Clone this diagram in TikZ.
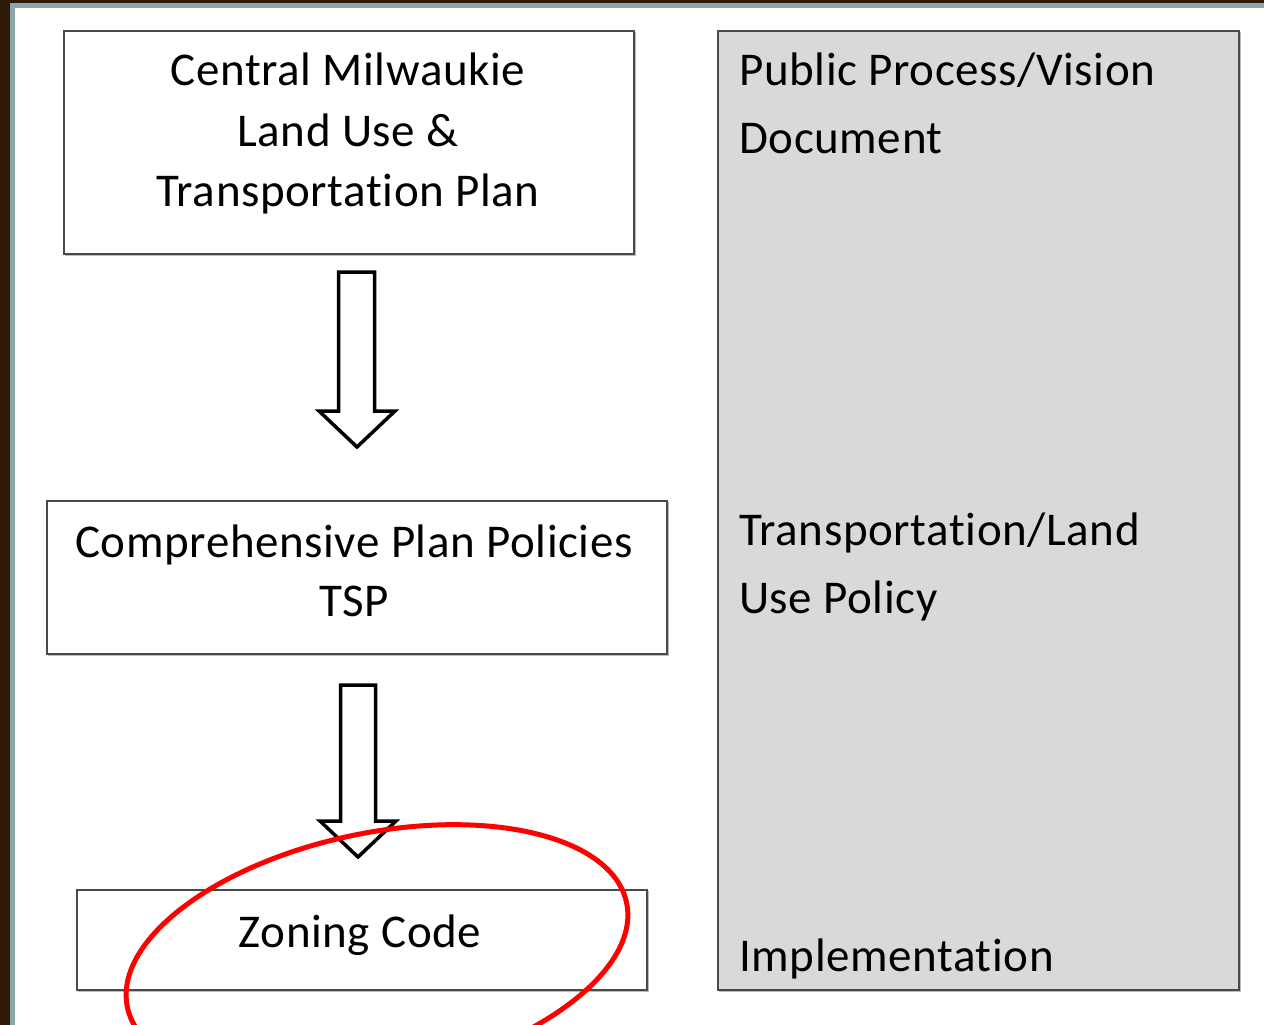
\documentclass[tikz,border=0pt]{standalone}
\usepackage{fontspec}
\setmainfont{Carlito}[LetterSpace=1.3, Ligatures=NoCommon, Contextuals=NoAlternate, RawFeature={-liga;-clig;-dlig}]
\definecolor{frameBrown}{HTML}{2E1A06}
\definecolor{frameBlue}{HTML}{8CA7AA}
\definecolor{boxEdge}{HTML}{4A4A4A}
\definecolor{boxShade}{HTML}{BBBBBB}
\definecolor{panelFill}{HTML}{D9D9D9}
\tikzset{
  stagebox/.style={draw=boxEdge, line width=2pt, fill=white, rectangle, inner sep=0pt},
  panelbox/.style={draw=boxEdge, line width=2pt, fill=panelFill, rectangle, inner sep=0pt},
  shade/.style={draw=boxShade, line width=1.5pt},
  lbl/.style={font=\fontsize{47}{60}\selectfont, inner sep=0pt, text=black},
  blockarrow/.style={draw=black, line width=3.5pt, fill=white, line join=miter},
  mark ring/.style={draw=red, line width=5pt}
}
\begin{document}
\begin{tikzpicture}[x=1pt,y=-1pt]
\useasboundingbox (0,0) rectangle (1264,1025);
\clip (0,0) rectangle (1264,1025);
\fill[white] (0,0) rectangle (1264,1025);
% frame
\fill[frameBrown] (0,0) rectangle (10,1025);
\fill[frameBrown] (0,0) rectangle (1264,3);
\fill[frameBlue] (10,3) rectangle (15,1025);
\fill[frameBlue] (10,3) rectangle (1264,8);

% shadows
\draw[shade] (65,255) -- (635,255) -- (635,32);
\draw[shade] (48,655) -- (668,655) -- (668,502);
\draw[shade] (78,991) -- (648,991) -- (648,891);
\draw[shade] (719,991) -- (1240,991) -- (1240,32);

% boxes
\node[stagebox, minimum width=570pt, minimum height=223pt, anchor=north west] (plan) at (63,30) {};
\node[stagebox, minimum width=620pt, minimum height=153pt, anchor=north west] (policy) at (46,500) {};
\node[stagebox, minimum width=570pt, minimum height=100pt, anchor=north west] (zoning) at (76,889) {};
\node[panelbox, minimum width=521pt, minimum height=959pt, anchor=north west] (panel) at (717,30) {};

% texts
\node[lbl, anchor=base] (t1) at (348,85) {Central Milwaukie};
\node[lbl, anchor=base] (t2) at (348,146) {Land Use \&};
\node[lbl, anchor=base] (t3) at (348,206) {Transportation Plan};
\node[lbl, anchor=base] (t4) at (354,557) {Comprehensive Plan Policies};
\node[lbl, anchor=base] (t5) at (354,616) {TSP};
\node[lbl, anchor=base] (t6) at (360,947) {Zoning Code};
\node[lbl, anchor=base west] (r1) at (739,85) {Public Process/Vision};
\node[lbl, anchor=base west] (r2) at (739,153) {Document};
\node[lbl, anchor=base west] (r3) at (739,545) {Transportation/Land};
\node[lbl, anchor=base west] (r4) at (739,613) {Use Policy};
\node[lbl, anchor=base west] (r5) at (739,971) {Implementation};

% block arrows
\draw[blockarrow] (338.5,272) -- (374.5,272) -- (374.5,411) -- (395,411) -- (357,447)
  -- (319,411) -- (338.5,411) -- cycle;
\draw[blockarrow] (340.5,685) -- (375.5,685) -- (375.5,821) -- (396,821) -- (358,857)
  -- (320,821) -- (340.5,821) -- cycle;

% red ring
\draw[mark ring, rotate around={11.8:(377,955)}] (377,955) ellipse (255 and 122);
\end{tikzpicture}
\end{document}
